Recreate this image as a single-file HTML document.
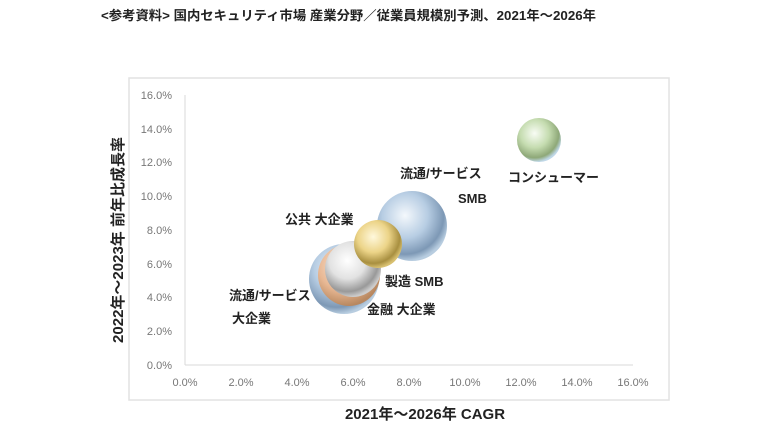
<!DOCTYPE html>
<html><head><meta charset="utf-8"><style>
body{margin:0;width:768px;height:432px;background:#fff;overflow:hidden}
svg{font-family:"Liberation Sans","Noto Sans CJK JP",sans-serif}
</style></head><body>
<svg width="768" height="432" viewBox="0 0 768 432">
<defs>
<radialGradient id="gB" cx="40%" cy="35%" r="65%"><stop offset="0" stop-color="#f4f8fc"/><stop offset="0.5" stop-color="#b7cde3"/><stop offset="0.85" stop-color="#7d98b5"/><stop offset="1" stop-color="#b8cde0"/></radialGradient>
<radialGradient id="gG" cx="40%" cy="35%" r="65%"><stop offset="0" stop-color="#f8fcf4"/><stop offset="0.5" stop-color="#c5dcb0"/><stop offset="0.85" stop-color="#8ea878"/><stop offset="1" stop-color="#c0d8e8"/></radialGradient>
<radialGradient id="gY" cx="40%" cy="35%" r="65%"><stop offset="0" stop-color="#fff8dc"/><stop offset="0.5" stop-color="#ecd488"/><stop offset="0.85" stop-color="#a88f40"/><stop offset="1" stop-color="#d8c070"/></radialGradient>
<radialGradient id="gW" cx="40%" cy="35%" r="65%"><stop offset="0" stop-color="#ffffff"/><stop offset="0.5" stop-color="#e2e2e2"/><stop offset="0.85" stop-color="#999"/><stop offset="1" stop-color="#ccc"/></radialGradient>
<radialGradient id="gO" cx="40%" cy="35%" r="65%"><stop offset="0" stop-color="#fbe8da"/><stop offset="0.6" stop-color="#e8b894"/><stop offset="1" stop-color="#b88860"/></radialGradient>
</defs>
<text x="101" y="20" font-size="13" font-weight="bold" fill="#222" textLength="495" lengthAdjust="spacingAndGlyphs">&lt;参考資料&gt; 国内セキュリティ市場 産業分野／従業員規模別予測、2021年～2026年</text>
<rect x="129" y="78" width="540" height="322" fill="none" stroke="#e2e2e2" stroke-width="1.5"/>
<line x1="185" y1="95" x2="185" y2="365" stroke="#d8d8d8"/>
<line x1="185" y1="365" x2="633" y2="365" stroke="#d8d8d8"/>
<g font-size="11" fill="#777" text-anchor="end">
<text x="172" y="99">16.0%</text><text x="172" y="133">14.0%</text><text x="172" y="166">12.0%</text><text x="172" y="200">10.0%</text><text x="172" y="234">8.0%</text><text x="172" y="268">6.0%</text><text x="172" y="301">4.0%</text><text x="172" y="335">2.0%</text><text x="172" y="369">0.0%</text>
</g>
<g font-size="11" fill="#777" text-anchor="middle">
<text x="185" y="386">0.0%</text><text x="241" y="386">2.0%</text><text x="297" y="386">4.0%</text><text x="353" y="386">6.0%</text><text x="409" y="386">8.0%</text><text x="465" y="386">10.0%</text><text x="521" y="386">12.0%</text><text x="577" y="386">14.0%</text><text x="633" y="386">16.0%</text>
</g>
<text x="425" y="419" font-size="15" font-weight="bold" fill="#222" text-anchor="middle">2021年～2026年 CAGR</text>
<text transform="translate(123,240) rotate(-90)" font-size="15" font-weight="bold" fill="#222" text-anchor="middle">2022年～2023年 前年比成長率</text>
<circle cx="539" cy="140" r="22" fill="url(#gG)"/>
<circle cx="412" cy="226" r="35" fill="url(#gB)"/>
<circle cx="344" cy="279" r="35" fill="url(#gB)"/>
<circle cx="349" cy="275" r="31" fill="url(#gO)"/>
<circle cx="353" cy="269" r="28" fill="url(#gW)"/>
<circle cx="378" cy="244" r="24" fill="url(#gY)"/>
<g font-size="13" font-weight="bold" fill="#222">
<text x="400" y="178">流通/サービス</text>
<text x="458" y="203">SMB</text>
<text x="508" y="182">コンシューマー</text>
<text x="285" y="224">公共 大企業</text>
<text x="385" y="286">製造 SMB</text>
<text x="229" y="300">流通/サービス</text>
<text x="232" y="323">大企業</text>
<text x="367" y="314">金融 大企業</text>
</g>
</svg>
</body></html>
